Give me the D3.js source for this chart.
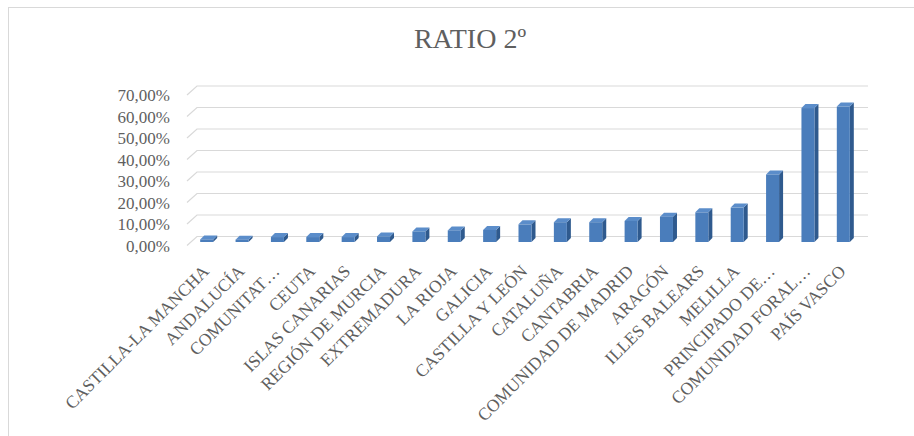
<!DOCTYPE html>
<html>
<head>
<meta charset="utf-8">
<script src="https://cdn.jsdelivr.net/npm/d3@7"></script>
<style>
  body { margin: 0; background: #fff; }
  svg { display: block; font-family: "Liberation Serif", "Times New Roman", serif; }
</style>
</head>
<body>
<svg width="914" height="436"></svg>
<script>
const titleText = "RATIO 2º";

const regions = [
    "CASTILLA-LA MANCHA", "ANDALUCÍA", "COMUNITAT…", "CEUTA", "ISLAS CANARIAS",
    "REGIÓN DE MURCIA", "EXTREMADURA", "LA RIOJA", "GALICIA", "CASTILLA Y LEÓN",
    "CATALUÑA", "CANTABRIA", "COMUNIDAD DE MADRID", "ARAGÓN", "ILLES BALEARS",
    "MELILLA", "PRINCIPADO DE…", "COMUNIDAD FORAL…", "PAÍS VASCO"
];

const ratios = [
    0.012, 0.011, 0.023, 0.023, 0.023,
    0.026, 0.049, 0.054, 0.056, 0.082,
    0.092, 0.092, 0.098, 0.118, 0.138,
    0.160, 0.314, 0.623, 0.630
];

const yTicks = [0, 0.1, 0.2, 0.3, 0.4, 0.5, 0.6, 0.7];

const svg = d3.select('svg');
const width = +svg.attr('width');
const height = +svg.attr('height');

const esLocale = d3.formatLocale({ decimal: ",", thousands: ".", grouping: [3], currency: ["", " €"] });
const pct = esLocale.format(".2%");

const grey = '#5f5f5f';
const gridColor = '#d9d9d9';

// 3d look: floor depth and bar depth
const floorDx = 10, floorDy = 9;
const barFront = 5.5;        // bars stand a bit in front of the back wall
const depth = 4;

// chart border
svg.append('rect')
    .attr('x', 8.5)
    .attr('y', 7.5)
    .attr('width', width + 20)
    .attr('height', height + 20)
    .attr('fill', 'none')
    .attr('stroke', gridColor);

svg.append('text')
    .attr('x', 470)
    .attr('y', 48)
    .attr('text-anchor', 'middle')
    .attr('fill', grey)
    .style('font-size', '28px')
    .text(titleText);

const wallLeft = 197, wallRight = 868;

const xScale = d3.scaleBand()
    .domain(regions)
    .range([190, 862]);

const yScale = d3.scaleLinear()
    .domain([0, 0.7])
    .range([236.5, 86]);

// gridlines on the back wall, with the slant across the floor/side
const grid = svg.append('g');
grid.selectAll('polyline')
    .data(yTicks)
    .enter()
    .append('polyline')
    .attr('points', d => {
        const y = yScale(d);
        return `${wallLeft - floorDx},${y + floorDy} ${wallLeft},${y} ${wallRight},${y}`;
    })
    .attr('fill', 'none')
    .attr('stroke', gridColor)
    .attr('stroke-width', 1.2);

// value axis labels, level with the front edge of the floor
const yLabelScale = yScale.copy().range(yScale.range().map(v => v + floorDy + 0.5));
svg.append('g')
    .attr('transform', 'translate(170,0)')
    .call(d3.axisLeft(yLabelScale).tickValues(yTicks).tickFormat(pct).tickSize(0).tickPadding(0))
    .call(g => g.select('.domain').remove())
    .selectAll('text')
    .attr('fill', grey)
    .style('font-family', '"Liberation Serif", serif')
    .style('font-size', '17px');

// bars
const bars = svg.append('g');
const cx = d => xScale(d) + xScale.bandwidth() / 2;
const base = yScale(0) + barFront;

const barData = regions.map((r, i) => ({ region: r, value: ratios[i] }));

const barG = bars.selectAll('g')
    .data(barData)
    .enter()
    .append('g');

barG.append('polygon')   // side
    .attr('points', d => {
        const x1 = cx(d.region) + 5.5;
        const top = yScale(d.value) + barFront;
        return `${x1},${top} ${x1 + depth},${top - depth} ${x1 + depth},${base - depth} ${x1},${base}`;
    })
    .attr('fill', '#2f5a8e');

barG.append('polygon')   // top
    .attr('points', d => {
        const x0 = cx(d.region) - 7.5, x1 = cx(d.region) + 5.5;
        const top = yScale(d.value) + barFront;
        return `${x0},${top} ${x1},${top} ${x1 + depth},${top - depth} ${x0 + depth},${top - depth}`;
    })
    .attr('fill', '#5b8dca');

barG.append('rect')      // front
    .attr('x', d => cx(d.region) - 7.5)
    .attr('y', d => yScale(d.value) + barFront)
    .attr('width', 13)
    .attr('height', d => base - (yScale(d.value) + barFront))
    .attr('fill', '#4a7dbb');

// category labels
svg.append('g')
    .selectAll('text')
    .data(regions)
    .enter()
    .append('text')
    .attr('transform', d => `translate(${cx(d) - 2},268) rotate(-45)`)
    .attr('text-anchor', 'end')
    .attr('dy', '0.35em')
    .attr('fill', grey)
    .style('font-size', '17.5px')
    .text(d => d);
</script>
</body>
</html>
